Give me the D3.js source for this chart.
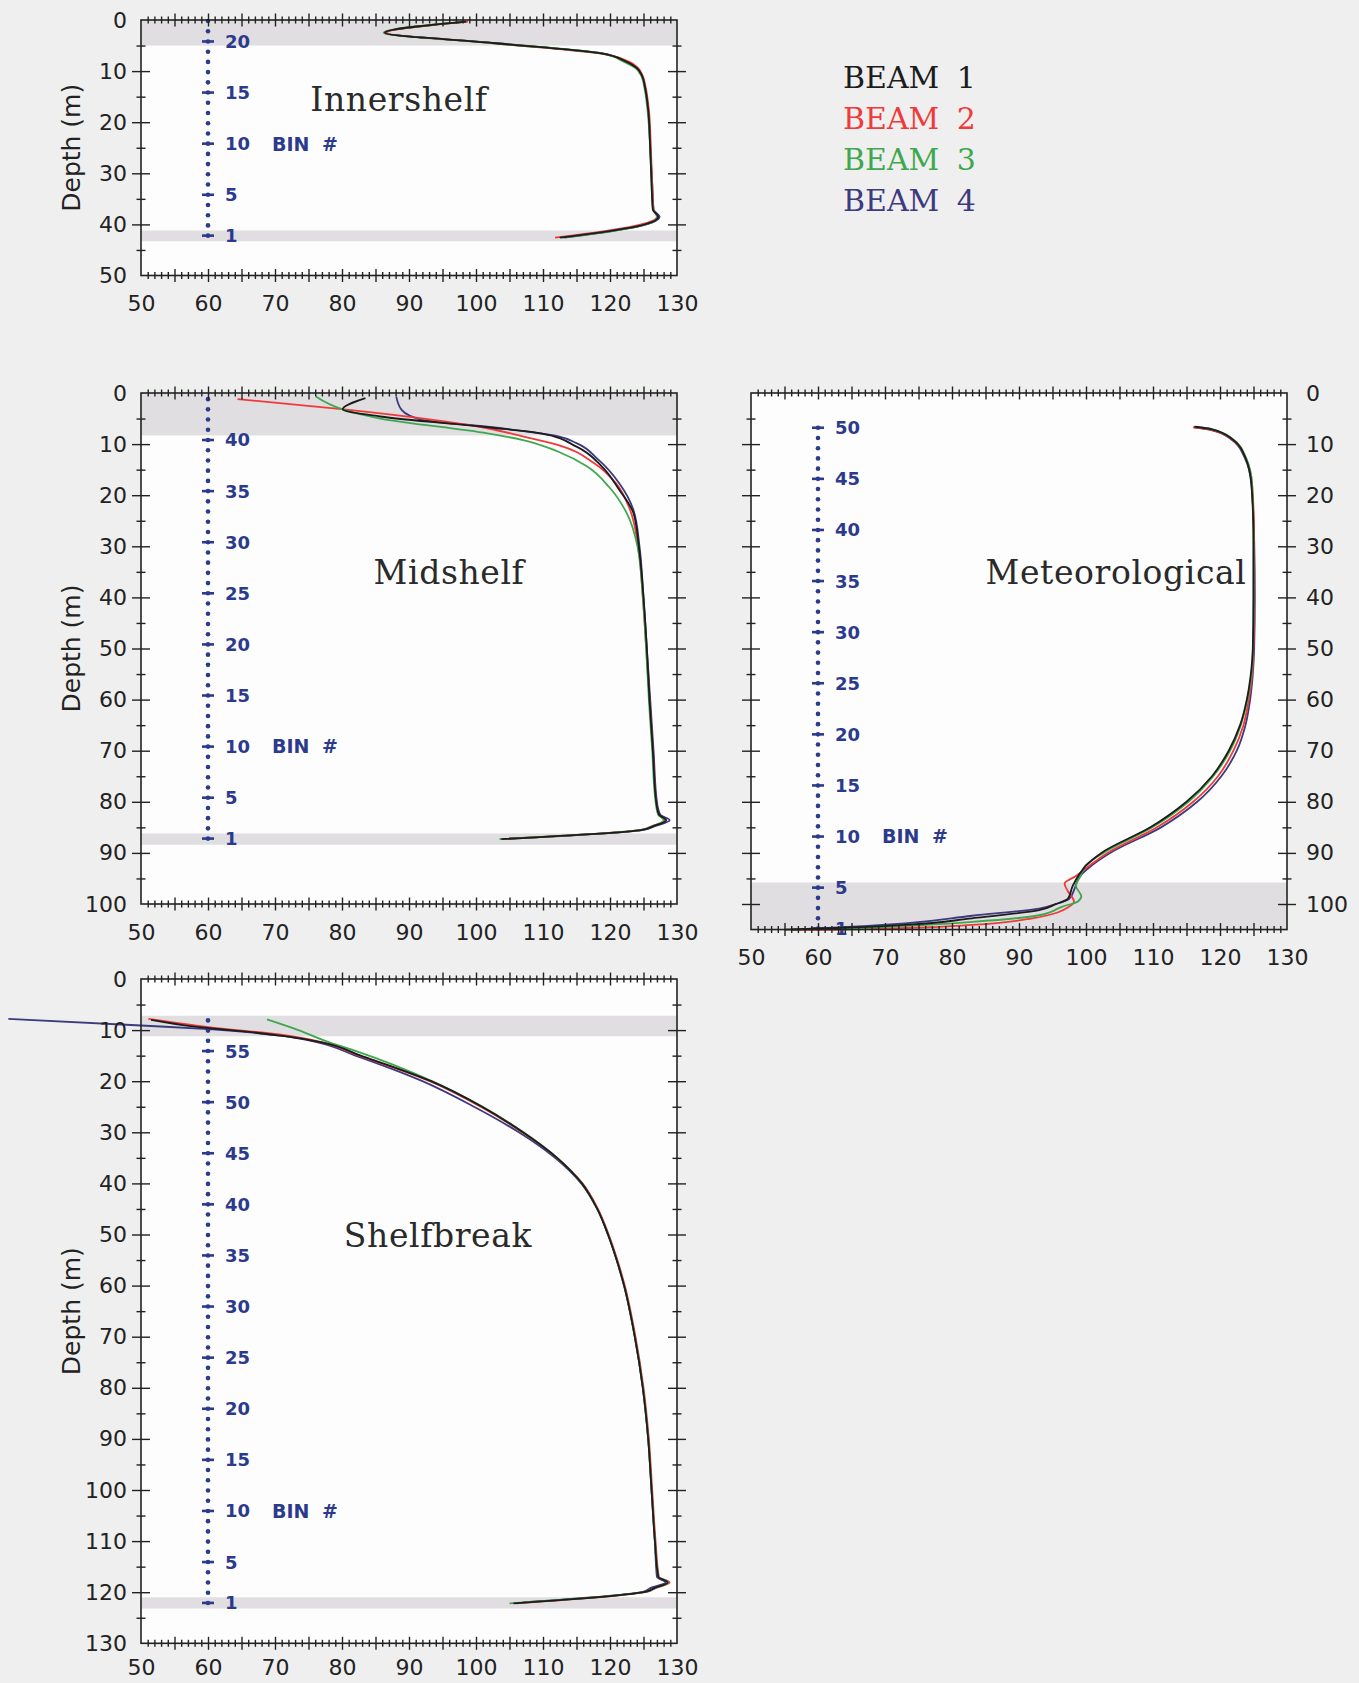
<!DOCTYPE html>
<html>
<head>
<meta charset="utf-8">
<script src="https://cdn.jsdelivr.net/npm/d3@7"></script>
<style>
  body { margin: 0; background: #efefef; }
  svg { display: block; }
</style>
</head>
<body>
<div id="chart"></div>
<script>
// beams: [depth (m), value]
const beamNames = ["BEAM 1", "BEAM 2", "BEAM 3", "BEAM 4"]
const beamColors = ["#1c1c1c", "#f03a3a", "#3fa84f", "#3d3a80"]

const innerBeam1 = [[0.3,98.5],[2.5,86.4],[4.5,102.5],[6.5,118.5],[8.2,122.5],[9.4,124.0],[11,124.8],[13,125.2],[17.6,125.7],[25,126.0],[32,126.2],[37.1,126.4],[38.5,127.2],[40.4,124.0],[42.6,112.5]]
const innerBeam2 = [[0.3,98.8],[2.5,86.7],[4.5,102.3],[6.5,118.2],[8.2,122.9],[9.4,124.2],[11,124.9],[13,125.3],[17.6,125.8],[25,126.1],[32,126.3],[37.1,126.5],[38.5,127.0],[40.4,123.4],[42.6,111.8]]
const innerBeam3 = [[0.3,98.2],[2.5,86.2],[4.5,102.1],[6.5,118.6],[8.2,122.1],[9.4,123.8],[11,124.7],[13,125.1],[17.6,125.6],[25,126.0],[32,126.2],[37.1,126.4],[38.5,127.1],[40.4,124.2],[42.6,112.8]]
const innerBeam4 = [[0.3,98.6],[2.5,86.5],[4.5,102.8],[6.5,118.7],[8.2,122.6],[9.4,124.0],[11,124.8],[13,125.2],[17.6,125.7],[25,126.0],[32,126.3],[37.1,126.5],[38.5,127.4],[40.4,124.3],[42.6,113.2]]

const midBeam1 = [[1.0,83.5],[3.2,80.1],[4.6,85.7],[6.7,101.7],[7.9,109.7],[10.5,115.0],[14.4,118.8],[19.0,121.4],[23.5,123.5],[30,124.3],[40,125.0],[50,125.5],[60,125.9],[70,126.4],[80,126.9],[82.5,127.3],[83.6,128.4],[84.8,126.4],[85.5,124.8],[87.3,103.8]]
const midBeam2 = [[1.2,64.4],[3.2,80.3],[6.9,101.7],[8.5,107.0],[10.2,112.3],[13.8,117.7],[17.7,120.9],[22.9,123.0],[30,124.2],[40,124.9],[50,125.4],[60,125.9],[70,126.4],[80,126.9],[82.5,127.2],[83.6,128.2],[84.8,126.2],[85.5,124.6],[87.3,103.6]]
const midBeam3 = [[0.7,76.1],[3.3,80.3],[5.0,85.7],[7.9,101.7],[9.2,107.0],[11.5,112.3],[14.4,116.6],[18.3,119.8],[23.5,122.5],[30,124.1],[40,124.9],[50,125.4],[60,125.8],[70,126.3],[80,126.8],[82.5,127.2],[83.6,128.0],[84.8,126.3],[85.5,124.7],[87.3,103.5]]
const midBeam4 = [[0.7,88.1],[3.3,88.9],[5.3,92.1],[6.6,101.7],[8.5,112.3],[9.8,115.0],[13.1,118.3],[17.7,121.4],[22.9,123.5],[30,124.4],[40,125.0],[50,125.5],[60,126.0],[70,126.5],[80,127.0],[82.5,127.5],[83.6,128.9],[84.8,126.6],[85.5,125.0],[87.3,104.0]]

const metBeam1 = [[6.6,116.2],[7.1,118.8],[9.0,121.8],[12.7,123.8],[18.0,124.7],[29,125.0],[40,125.0],[50,124.9],[55,124.6],[60,124.0],[65,123.0],[70,121.3],[75,118.8],[80,115.0],[85,109.6],[90,102.3],[92.5,100.0],[94.2,99.0],[96.5,98.0],[99.0,97.3],[100.0,95.5],[101.2,93.0],[102.8,83.0],[104.1,73.0],[104.7,63.0],[105.0,55.0]]
const metBeam2 = [[6.7,116.0],[7.2,118.7],[9.0,121.7],[12.7,123.8],[18.0,124.8],[29,125.1],[40,125.1],[50,125.0],[55,124.8],[60,124.3],[65,123.5],[70,122.0],[75,119.7],[80,116.0],[85,110.6],[90,103.2],[92.5,100.5],[94.5,98.5],[96.0,96.8],[97.5,97.3],[99.5,98.2],[100.5,97.5],[102.8,92.0],[104.1,83.0],[104.7,73.0],[105.0,63.0],[105.1,56.0]]
const metBeam3 = [[6.6,116.3],[7.1,118.9],[9.0,121.9],[12.7,123.9],[18.0,124.8],[29,125.0],[40,125.0],[50,124.9],[55,124.7],[60,124.1],[65,123.1],[70,121.5],[75,119.0],[80,115.3],[85,109.9],[90,102.6],[92.5,99.9],[94.5,99.2],[96.5,98.5],[98.5,99.3],[99.5,98.8],[100.5,96.5],[102.2,93.0],[103.5,83.0],[104.3,73.0],[104.8,63.0],[105.0,56.0]]
const metBeam4 = [[6.7,116.1],[7.2,118.6],[9.0,121.6],[12.7,123.7],[18.0,124.7],[29,125.1],[40,125.2],[50,125.1],[55,124.9],[60,124.5],[65,123.8],[70,122.5],[75,120.2],[80,116.6],[85,111.2],[90,103.6],[92.5,100.8],[94.7,99.0],[97.0,98.3],[99.0,97.5],[99.8,96.0],[100.9,93.0],[102.3,83.0],[103.8,73.0],[104.6,63.0],[105.0,56.0]]

const shelfBeam1 = [[8.0,51.5],[9.3,58.0],[10.2,65.0],[11.2,71.5],[12.4,77.0],[15,82.8],[20,93.3],[25,100.9],[30,107.0],[35,112.1],[40,115.8],[45,118.1],[50,119.7],[55,121.0],[60,122.1],[70,123.7],[80,124.9],[90,125.7],[100,126.2],[110,126.7],[117,127.2],[118.1,128.6],[119.2,126.6],[119.9,125.4],[122.2,105.6]]
const shelfBeam2 = [[7.8,51.1],[9.4,60.1],[11.0,71.4],[12.3,76.8],[15,82.6],[20,93.1],[25,100.7],[30,106.9],[35,112.1],[40,115.9],[45,118.2],[50,119.8],[55,121.1],[60,122.2],[70,123.8],[80,125.0],[90,125.8],[100,126.3],[110,126.8],[117,127.3],[118.1,128.9],[119.2,126.8],[119.9,125.6],[122.2,106.0]]
const shelfBeam3 = [[7.9,68.8],[10.0,73.5],[12.4,78.1],[14.1,82.1],[20,93.5],[25,101.0],[30,107.1],[35,112.1],[40,115.8],[45,118.1],[50,119.7],[55,121.0],[60,122.1],[70,123.7],[80,124.9],[90,125.7],[100,126.2],[110,126.7],[117,127.2],[118.1,128.7],[119.2,126.7],[119.9,125.5],[122.2,105.0]]
const shelfBeam4 = [[7.8,30.2],[9.1,50.0],[9.8,60.1],[11.2,71.4],[12.1,75.4],[15,82.0],[20,92.0],[25,99.7],[30,106.4],[35,111.8],[40,115.7],[45,118.1],[50,119.7],[55,121.0],[60,122.1],[70,123.7],[80,124.9],[90,125.7],[100,126.2],[110,126.7],[117,127.0],[118.1,128.3],[119.2,126.0],[119.9,125.0],[122.0,107.0]]

// grey bands (depth ranges)
const innerBands = [[0, 5], [41.2, 43.3]]
const midBands = [[0, 8.3], [86.2, 88.4]]
const metBands = [[95.8, 105]]
const shelfBands = [[7.2, 11.2], [121.0, 123.2]]

// bin numbers shown on the dotted scale
const innerBinLabels = [1, 5, 10, 15, 20]
const midBinLabels = [1, 5, 10, 15, 20, 25, 30, 35, 40]
const metBinLabels = [1, 5, 10, 15, 20, 25, 30, 35, 40, 45, 50]
const shelfBinLabels = [1, 5, 10, 15, 20, 25, 30, 35, 40, 45, 50, 55]

// tick labels
const xTickLabels = [50, 60, 70, 80, 90, 100, 110, 120, 130]
const innerDepthLabels = [0, 10, 20, 30, 40, 50]
const midDepthLabels = [0, 10, 20, 30, 40, 50, 60, 70, 80, 90, 100]
const metDepthLabels = [0, 10, 20, 30, 40, 50, 60, 70, 80, 90, 100]
const shelfDepthLabels = [0, 10, 20, 30, 40, 50, 60, 70, 80, 90, 100, 110, 120, 130]

const binSpacing = 2 // m per bin
const binX = 60

const W = 1359, H = 1683
const pxPerUnit = 536 / 80, pxPerMetre = 5.11
const inkColor = "#222", binColor = "#2b3a8c"
const numFont = "DejaVu Sans", serifFont = "DejaVu Serif"

const panels = [
    { title: "Innershelf", left: 141, top: 20, maxDepth: 50, labels: innerDepthLabels, side: "left",
      bands: innerBands, beams: [innerBeam1, innerBeam2, innerBeam3, innerBeam4],
      bin1: 42.2, binCount: 22, binLabels: innerBinLabels, titleX: 399, titleY: 111, xPad: 20 },
    { title: "Midshelf", left: 141, top: 393, maxDepth: 100, labels: midDepthLabels, side: "left",
      bands: midBands, beams: [midBeam1, midBeam2, midBeam3, midBeam4],
      bin1: 87.2, binCount: 44, binLabels: midBinLabels, titleX: 449, titleY: 584, xPad: 20 },
    { title: "Meteorological", left: 751, top: 393, maxDepth: 105, labels: metDepthLabels, side: "right",
      bands: metBands, beams: [metBeam1, metBeam2, metBeam3, metBeam4],
      bin1: 104.8, binCount: 50, binLabels: metBinLabels, titleX: 1116, titleY: 584, xPad: 20 },
    { title: "Shelfbreak", left: 141, top: 979, maxDepth: 130, labels: shelfDepthLabels, side: "left",
      bands: shelfBands, beams: [shelfBeam1, shelfBeam2, shelfBeam3, shelfBeam4],
      bin1: 122.1, binCount: 58, binLabels: shelfBinLabels, titleX: 438, titleY: 1247, xPad: 16 }
]

const svg = d3.select("#chart").append("svg")
    .attr("width", W)
    .attr("height", H)

svg.append("rect")
    .attr("width", W)
    .attr("height", H)
    .attr("fill", "#efefef")

function crossTicks(g, axisFn, scale, values, half, ty, tx) {
    const a = g.append("g")
        .attr("transform", `translate(${tx || 0},${ty || 0})`)
        .call(axisFn(scale).tickValues(values).tickSize(half).tickSizeOuter(0).tickFormat(""))
    a.select(".domain").remove()
    const horizontal = axisFn === d3.axisBottom || axisFn === d3.axisTop
    a.selectAll(".tick line")
        .attr(horizontal ? "y1" : "x1", -half)
        .attr(horizontal ? "y2" : "x2", half)
        .attr("stroke", inkColor)
        .attr("stroke-width", 1.4)
}

function drawPanel(p) {
    const x = d3.scaleLinear().domain([50, 130]).range([0, 80 * pxPerUnit])
    const y = d3.scaleLinear().domain([0, p.maxDepth]).range([0, p.maxDepth * pxPerMetre])
    const w = x.range()[1], h = y.range()[1]

    const g = svg.append("g").attr("transform", `translate(${p.left},${p.top})`)

    g.append("rect")
        .attr("width", w)
        .attr("height", h)
        .attr("fill", "#fdfdfd")

    g.selectAll(".band")
        .data(p.bands)
        .join("rect")
        .attr("class", "band")
        .attr("x", 0)
        .attr("width", w)
        .attr("y", d => y(d[0]))
        .attr("height", d => y(d[1]) - y(d[0]))
        .attr("fill", "#e0dee0")

    // bin scale
    const bins = d3.range(1, p.binCount + 1).map(n => ({ n, depth: p.bin1 - binSpacing * (n - 1) }))
    const bg = g.append("g").attr("fill", binColor)
    bg.selectAll("circle")
        .data(bins)
        .join("circle")
        .attr("cx", x(binX))
        .attr("cy", d => y(d.depth))
        .attr("r", 2.3)
    const labelled = bins.filter(d => p.binLabels.includes(d.n))
    bg.selectAll("line")
        .data(labelled)
        .join("line")
        .attr("x1", x(binX) - 6)
        .attr("x2", x(binX) + 6)
        .attr("y1", d => y(d.depth))
        .attr("y2", d => y(d.depth))
        .attr("stroke", binColor)
        .attr("stroke-width", 2.6)
    bg.selectAll("text")
        .data(labelled)
        .join("text")
        .attr("x", x(binX) + 17)
        .attr("y", d => y(d.depth))
        .attr("dy", "0.36em")
        .attr("font-family", numFont)
        .attr("font-weight", "bold")
        .attr("font-size", 18)
        .text(d => d.n)
    const tenth = bins.find(d => d.n === 10)
    bg.append("text")
        .attr("x", x(binX) + 64)
        .attr("y", y(tenth.depth))
        .attr("dy", "0.36em")
        .attr("font-family", numFont)
        .attr("font-weight", "bold")
        .attr("font-size", 19)
        .attr("word-spacing", 6)
        .text("BIN #")

    // beam profiles
    const line = d3.line()
        .x(d => x(d[1]))
        .y(d => y(d[0]))
        .curve(d3.curveMonotoneY)
    const order = [3, 1, 2, 0]
    order.forEach(i => {
        g.append("path")
            .datum(p.beams[i])
            .attr("fill", "none")
            .attr("stroke", beamColors[i])
            .attr("stroke-width", 1.8)
            .attr("stroke-linejoin", "round")
            .attr("d", line)
    })

    // frame and ticks
    g.append("rect")
        .attr("width", w)
        .attr("height", h)
        .attr("fill", "none")
        .attr("stroke", inkColor)
        .attr("stroke-width", 1.6)

    const xMinor = d3.range(51, 130, 1).filter(v => v % 5 !== 0)
    const xMajor = d3.range(55, 130, 5)
    const yMajor = d3.range(10, p.maxDepth, 10).filter(v => v < p.maxDepth)
    const yMinor = d3.range(5, p.maxDepth, 10)

    crossTicks(g, d3.axisBottom, x, xMinor, 3.5, h)
    crossTicks(g, d3.axisBottom, x, xMajor, 6.5, h)
    crossTicks(g, d3.axisTop, x, xMinor, 3.5, 0)
    crossTicks(g, d3.axisTop, x, xMajor, 6.5, 0)
    crossTicks(g, d3.axisLeft, y, yMinor, 4.5, 0, 0)
    crossTicks(g, d3.axisLeft, y, yMajor, 9, 0, 0)
    crossTicks(g, d3.axisRight, y, yMinor, 4.5, 0, w)
    crossTicks(g, d3.axisRight, y, yMajor, 9, 0, w)

    const xl = g.append("g")
        .attr("transform", `translate(0,${h})`)
        .call(d3.axisBottom(x).tickValues(xTickLabels).tickSize(0).tickPadding(p.xPad).tickFormat(d3.format("d")))
    xl.select(".domain").remove()
    xl.attr("font-family", numFont).attr("font-size", 22)
    xl.selectAll("text").attr("fill", inkColor)

    const yAxis = p.side === "left" ? d3.axisLeft(y) : d3.axisRight(y)
    const yl = g.append("g")
        .attr("transform", `translate(${p.side === "left" ? 0 : w},0)`)
        .call(yAxis.tickValues(p.labels).tickSize(0).tickPadding(p.side === "left" ? 14 : 19).tickFormat(d3.format("d")))
    yl.select(".domain").remove()
    yl.attr("font-family", numFont).attr("font-size", 22)
    yl.selectAll("text").attr("fill", inkColor)

    if (p.side === "left") {
        g.append("text")
            .attr("transform", `translate(-61,${h / 2}) rotate(-90)`)
            .attr("text-anchor", "middle")
            .attr("font-family", numFont)
            .attr("font-size", 25)
            .attr("fill", inkColor)
            .text("Depth (m)")
    }

    svg.append("text")
        .attr("x", p.titleX)
        .attr("y", p.titleY)
        .attr("text-anchor", "middle")
        .attr("font-family", serifFont)
        .attr("font-size", 33)
        .attr("letter-spacing", 0.6)
        .attr("fill", "#2a2a2a")
        .text(p.title)
}

panels.forEach(drawPanel)

// legend
svg.append("g")
    .selectAll("text")
    .data(beamNames)
    .join("text")
    .attr("x", 843)
    .attr("y", (d, i) => 88 + i * 41)
    .attr("font-family", serifFont)
    .attr("font-size", 30)
    .attr("word-spacing", 8)
    .attr("fill", (d, i) => beamColors[i])
    .text(d => d)
</script>
</body>
</html>
